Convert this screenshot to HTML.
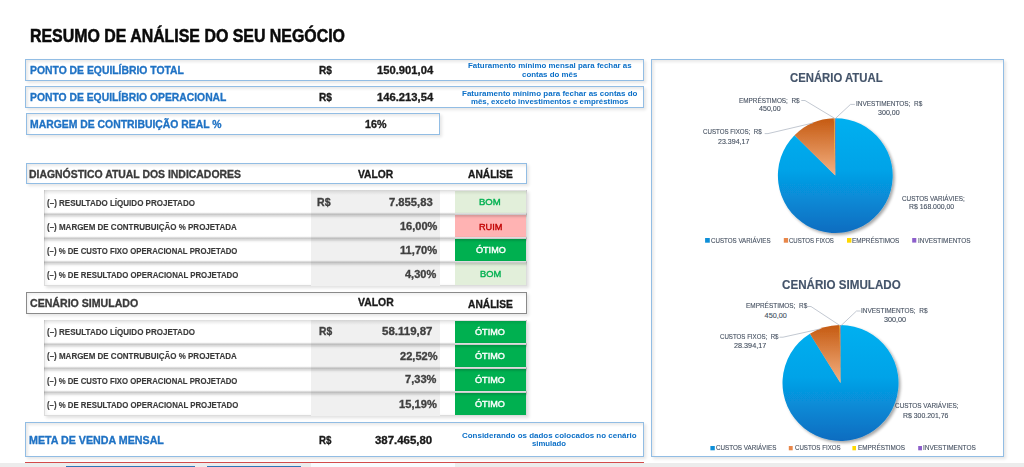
<!DOCTYPE html>
<html><head><meta charset="utf-8"><style>
html,body{margin:0;padding:0;background:#fff;width:1024px;height:467px;overflow:hidden;position:relative}
.abs{position:absolute;box-sizing:border-box}
.t{position:absolute;white-space:pre;font-family:"Liberation Sans",sans-serif;line-height:1;transform-origin:0 0}
.bx{border:1px solid #92BDE4;background:#fff;box-shadow:2px 2px 3px rgba(0,0,0,0.10), inset 2px 2px 3px rgba(0,0,0,0.09)}
.gbx{border:1px solid #8a8a8a;background:#fff;box-shadow:2px 2px 3px rgba(0,0,0,0.10), inset 2px 2px 3px rgba(0,0,0,0.06)}
.rowsbg{background:#fff;border:1px solid #dcdcdc;border-top:0;box-shadow:2px 2px 3px rgba(0,0,0,0.12), inset 2px 0 3px rgba(0,0,0,0.05)}
.sep{background:linear-gradient(to bottom, rgba(0,0,0,0) 0px, rgba(0,0,0,0.05) 1px, rgba(0,0,0,0.22) 2px, rgba(0,0,0,0.2) 2.8px, rgba(0,0,0,0.14) 3.5px, rgba(0,0,0,0.10) 4.5px, rgba(0,0,0,0.04) 5.5px, rgba(0,0,0,0) 7px)}
.sep0{background:linear-gradient(to bottom, rgba(0,0,0,0) 0px, rgba(0,0,0,0) 2px, rgba(0,0,0,0.12) 2px, rgba(0,0,0,0.08) 3.5px, rgba(0,0,0,0.03) 5.5px, rgba(0,0,0,0) 7px)}
.badge.bom{background:#E2EFDA}
.badge.ruim{background:#FFB3B3}
.badge.otimo{background:#00B050}
</style></head><body>
<div class="abs bx" style="left:25px;top:59px;width:619px;height:22px"></div>
<div class="abs bx" style="left:25px;top:86px;width:619px;height:22px"></div>
<div class="abs bx" style="left:26px;top:113px;width:414px;height:22px"></div>
<div class="abs bx" style="left:26px;top:163px;width:501px;height:21px"></div>
<div class="abs rowsbg" style="left:44px;top:190px;width:483px;height:96px"></div>
<div class="abs" style="left:311px;top:190px;width:129px;height:96px;background:#F0F0F0"></div>
<div class="abs badge bom" style="left:455px;top:191px;width:71px;height:22px"></div>
<div class="abs badge ruim" style="left:455px;top:215px;width:71px;height:22px"></div>
<div class="abs badge otimo" style="left:455px;top:239px;width:71px;height:22px"></div>
<div class="abs badge bom" style="left:455px;top:263px;width:71px;height:22px"></div>
<div class="abs sep0" style="left:44px;top:188px;width:483px;height:7px"></div>
<div class="abs sep" style="left:44px;top:212px;width:483px;height:7px"></div>
<div class="abs sep" style="left:44px;top:236px;width:483px;height:7px"></div>
<div class="abs sep" style="left:44px;top:260px;width:483px;height:7px"></div>
<div class="abs gbx" style="left:26px;top:292px;width:501px;height:22px"></div>
<div class="abs rowsbg" style="left:44px;top:320px;width:483px;height:96px"></div>
<div class="abs" style="left:311px;top:320px;width:129px;height:96px;background:#F0F0F0"></div>
<div class="abs badge otimo" style="left:455px;top:321px;width:71px;height:22px"></div>
<div class="abs badge otimo" style="left:455px;top:345px;width:71px;height:22px"></div>
<div class="abs badge otimo" style="left:455px;top:369px;width:71px;height:22px"></div>
<div class="abs badge otimo" style="left:455px;top:393px;width:71px;height:22px"></div>
<div class="abs sep0" style="left:44px;top:318px;width:483px;height:7px"></div>
<div class="abs sep" style="left:44px;top:342px;width:483px;height:7px"></div>
<div class="abs sep" style="left:44px;top:366px;width:483px;height:7px"></div>
<div class="abs sep" style="left:44px;top:390px;width:483px;height:7px"></div>
<div class="abs bx" style="left:25px;top:422px;width:619px;height:35px"></div>
<div class="abs bx" style="left:651px;top:59px;width:353px;height:398px"></div>
<div class="abs" style="left:25px;top:462px;width:619px;height:1px;background:#D24B4B"></div>
<div class="abs" style="left:0;top:463px;width:1024px;height:4px;background:#ECECEC"></div>
<div class="abs" style="left:311px;top:463px;width:144px;height:4px;background:#F9FBFE"></div>
<div class="abs" style="left:66px;top:466px;width:129px;height:1px;background:#2E75B6"></div>
<div class="abs" style="left:207px;top:466px;width:94px;height:1px;background:#2E75B6"></div>
<svg class="abs" style="left:0;top:0" width="1024" height="467" viewBox="0 0 1024 467">
<defs>
<linearGradient id="p1b" x1="0" y1="0" x2="0" y2="1"><stop offset="0" stop-color="#00B0F0"/><stop offset="0.45" stop-color="#05A3E8"/><stop offset="1" stop-color="#0A6CC0"/></linearGradient>
<linearGradient id="p1o" x1="0" y1="0" x2="0" y2="1"><stop offset="0" stop-color="#C55A11"/><stop offset="1" stop-color="#F4B183"/></linearGradient>
<linearGradient id="p2b" x1="0" y1="0" x2="0" y2="1"><stop offset="0" stop-color="#00B0F0"/><stop offset="0.45" stop-color="#05A3E8"/><stop offset="1" stop-color="#0A6CC0"/></linearGradient>
<linearGradient id="p2o" x1="0" y1="0" x2="0" y2="1"><stop offset="0" stop-color="#C55A11"/><stop offset="1" stop-color="#F4B183"/></linearGradient>
<filter id="sh" x="-20%" y="-20%" width="140%" height="140%"><feGaussianBlur in="SourceAlpha" stdDeviation="1.5"/><feOffset dx="1.5" dy="1.5"/><feComponentTransfer><feFuncA type="linear" slope="0.35"/></feComponentTransfer><feMerge><feMergeNode/><feMergeNode in="SourceGraphic"/></feMerge></filter>
</defs>
<g filter="url(#sh)">
<path d="M835.30,175.60 L835.30,118.20 A57.4,57.4 0 1 1 794.54,135.18 Z" fill="url(#p1b)"/>
<path d="M835.30,175.60 L794.54,135.18 A57.4,57.4 0 0 1 833.89,118.22 Z" fill="url(#p1o)"/>
<path d="M835.30,175.60 L833.89,118.22 A57.4,57.4 0 0 1 834.74,118.20 Z" fill="#FFC000"/>
<path d="M835.30,175.60 L834.74,118.20 A57.4,57.4 0 0 1 835.30,118.20 Z" fill="#7030A0"/>
</g>
<g filter="url(#sh)">
<path d="M840.50,383.00 L840.50,325.00 A58.0,58.0 0 1 1 809.89,333.74 Z" fill="url(#p2b)"/>
<path d="M840.50,383.00 L809.89,333.74 A58.0,58.0 0 0 1 839.67,325.01 Z" fill="url(#p2o)"/>
<path d="M840.50,383.00 L839.67,325.01 A58.0,58.0 0 0 1 840.17,325.00 Z" fill="#FFC000"/>
<path d="M840.50,383.00 L840.17,325.00 A58.0,58.0 0 0 1 840.50,325.00 Z" fill="#7030A0"/>
</g>
<g stroke="#ADB6C2" stroke-width="0.75" fill="none">
<polyline points="801.3,100.5 805,100.5 834.6,118.3"/>
<polyline points="854.9,104.4 850.5,104.4 835.6,118.3"/>
<polyline points="764.7,133.6 768,133.6 813,123"/>
<polyline points="807.5,306.5 811,306.5 840,325.6"/>
<polyline points="860.5,311 856.5,311 841,325.6"/>
<polyline points="779.5,337.2 783,337.2 820,329"/>
</g>
<rect x="705.1" y="238" width="4.7" height="4.7" fill="#0E8FD8"/>
<rect x="783.8" y="238" width="4.3" height="4.7" fill="#E8874A"/>
<rect x="847" y="238" width="4.4" height="4.7" fill="#FFD800"/>
<rect x="912.2" y="238" width="4.1" height="4.6" fill="#8D5FCB"/>
<rect x="710.4" y="446" width="4.4" height="4.3" fill="#0E8FD8"/>
<rect x="788.8" y="446" width="3.9" height="4.3" fill="#E8874A"/>
<rect x="852.4" y="446" width="3.6" height="4.3" fill="#FFD800"/>
<rect x="918.2" y="446" width="3.8" height="4.3" fill="#8D5FCB"/>
</svg>
<div class="t" style="left:29.54px;top:28.17px;font-size:17.44px;color:#0a0a0a;font-weight:bold;-webkit-text-stroke:0.52px #0a0a0a;transform:scaleX(0.9122)">RESUMO DE ANÁLISE DO SEU NEGÓCIO</div><div class="t" style="left:29.63px;top:66.4px;font-size:10.47px;color:#1F72C4;font-weight:bold;-webkit-text-stroke:0.31px #1F72C4;transform:scaleX(0.9914)">PONTO DE EQUILÍBRIO TOTAL</div><div class="t" style="left:29.63px;top:92.8px;font-size:10.47px;color:#1F72C4;font-weight:bold;-webkit-text-stroke:0.31px #1F72C4;transform:scaleX(0.9883)">PONTO DE EQUILÍBRIO OPERACIONAL</div><div class="t" style="left:29.82px;top:119.93px;font-size:10.32px;color:#1F72C4;font-weight:bold;-webkit-text-stroke:0.31px #1F72C4;transform:scaleX(1.0077)">MARGEM DE CONTRIBUIÇÃO REAL %</div><div class="t" style="left:318.63px;top:65.85px;font-size:10.17px;color:#1a1a1a;font-weight:bold;-webkit-text-stroke:0.31px #1a1a1a;transform:scaleX(0.9973)">R$</div><div class="t" style="left:376.98px;top:65.85px;font-size:10.17px;color:#1a1a1a;font-weight:bold;-webkit-text-stroke:0.31px #1a1a1a;transform:scaleX(1.1065)">150.901,04</div><div class="t" style="left:318.63px;top:92.55px;font-size:10.17px;color:#1a1a1a;font-weight:bold;-webkit-text-stroke:0.31px #1a1a1a;transform:scaleX(0.9973)">R$</div><div class="t" style="left:376.98px;top:92.55px;font-size:10.17px;color:#1a1a1a;font-weight:bold;-webkit-text-stroke:0.31px #1a1a1a;transform:scaleX(1.1065)">146.213,54</div><div class="t" style="left:364.8px;top:119.75px;font-size:10.17px;color:#1a1a1a;font-weight:bold;-webkit-text-stroke:0.31px #1a1a1a;transform:scaleX(1.0521)">16%</div><div class="t" style="left:467.5px;top:62.2px;font-size:7.99px;color:#0B6FC7;font-weight:bold;-webkit-text-stroke:0.00px #0B6FC7;transform:scaleX(0.9915)">Faturamento mínimo mensal para fechar as</div><div class="t" style="left:522.05px;top:70.8px;font-size:7.99px;color:#0B6FC7;font-weight:bold;-webkit-text-stroke:0.00px #0B6FC7;transform:scaleX(0.9910)">contas do mês</div><div class="t" style="left:461.7px;top:89.8px;font-size:7.99px;color:#0B6FC7;font-weight:bold;-webkit-text-stroke:0.00px #0B6FC7;transform:scaleX(1.0014)">Faturamento mínimo para fechar as contas do</div><div class="t" style="left:470.7px;top:98px;font-size:7.99px;color:#0B6FC7;font-weight:bold;-webkit-text-stroke:0.00px #0B6FC7;transform:scaleX(0.9828)">mês, exceto investimentos e empréstimos</div><div class="t" style="left:462.1px;top:432.2px;font-size:7.99px;color:#0B6FC7;font-weight:bold;-webkit-text-stroke:0.00px #0B6FC7;transform:scaleX(0.9963)">Considerando os dados colocados no cenário</div><div class="t" style="left:532.31px;top:440.2px;font-size:7.99px;color:#0B6FC7;font-weight:bold;-webkit-text-stroke:0.00px #0B6FC7;transform:scaleX(0.9713)">simulado</div><div class="t" style="left:28.82px;top:169.53px;font-size:10.32px;color:#3a3a3a;font-weight:bold;-webkit-text-stroke:0.31px #3a3a3a;transform:scaleX(1.0118)">DIAGNÓSTICO ATUAL DOS INDICADORES</div><div class="t" style="left:358px;top:169.53px;font-size:10.32px;color:#1a1a1a;font-weight:bold;-webkit-text-stroke:0.31px #1a1a1a;transform:scaleX(0.9978)">VALOR</div><div class="t" style="left:468.12px;top:169.53px;font-size:10.32px;color:#1a1a1a;font-weight:bold;-webkit-text-stroke:0.31px #1a1a1a;transform:scaleX(0.9904)">ANÁLISE</div><div class="t" style="left:29.51px;top:298.93px;font-size:10.32px;color:#3a3a3a;font-weight:bold;-webkit-text-stroke:0.31px #3a3a3a;transform:scaleX(1.0268)">CENÁRIO SIMULADO</div><div class="t" style="left:357.8px;top:298.13px;font-size:10.32px;color:#1a1a1a;font-weight:bold;-webkit-text-stroke:0.31px #1a1a1a;transform:scaleX(1.0092)">VALOR</div><div class="t" style="left:468.12px;top:299.53px;font-size:10.32px;color:#1a1a1a;font-weight:bold;-webkit-text-stroke:0.31px #1a1a1a;transform:scaleX(0.9904)">ANÁLISE</div><div class="t" style="left:46.53px;top:199.49px;font-size:9.3px;color:#3a3a3a;font-weight:bold;-webkit-text-stroke:0.15px #3a3a3a;transform:scaleX(0.8626)">(–) RESULTADO LÍQUIDO PROJETADO</div><div class="t" style="left:46.53px;top:328.49px;font-size:9.3px;color:#3a3a3a;font-weight:bold;-webkit-text-stroke:0.15px #3a3a3a;transform:scaleX(0.8626)">(–) RESULTADO LÍQUIDO PROJETADO</div><div class="t" style="left:46.54px;top:223.29px;font-size:9.3px;color:#3a3a3a;font-weight:bold;-webkit-text-stroke:0.15px #3a3a3a;transform:scaleX(0.8587)">(–) MARGEM DE CONTRUBUIÇÃO % PROJETADA</div><div class="t" style="left:46.54px;top:352.49px;font-size:9.3px;color:#3a3a3a;font-weight:bold;-webkit-text-stroke:0.15px #3a3a3a;transform:scaleX(0.8587)">(–) MARGEM DE CONTRUBUIÇÃO % PROJETADA</div><div class="t" style="left:46.54px;top:247.49px;font-size:9.3px;color:#3a3a3a;font-weight:bold;-webkit-text-stroke:0.15px #3a3a3a;transform:scaleX(0.8359)">(–) % DE CUSTO FIXO OPERACIONAL PROJETADO</div><div class="t" style="left:46.54px;top:377.49px;font-size:9.3px;color:#3a3a3a;font-weight:bold;-webkit-text-stroke:0.15px #3a3a3a;transform:scaleX(0.8359)">(–) % DE CUSTO FIXO OPERACIONAL PROJETADO</div><div class="t" style="left:46.54px;top:271.29px;font-size:9.3px;color:#3a3a3a;font-weight:bold;-webkit-text-stroke:0.15px #3a3a3a;transform:scaleX(0.8405)">(–) % DE RESULTADO OPERACIONAL PROJETADO</div><div class="t" style="left:46.54px;top:400.89px;font-size:9.3px;color:#3a3a3a;font-weight:bold;-webkit-text-stroke:0.15px #3a3a3a;transform:scaleX(0.8405)">(–) % DE RESULTADO OPERACIONAL PROJETADO</div><div class="t" style="left:317.01px;top:198.25px;font-size:10.17px;color:#3f3f3f;font-weight:bold;-webkit-text-stroke:0.31px #3f3f3f;transform:scaleX(1.0413)">R$</div><div class="t" style="left:389.49px;top:198.25px;font-size:10.17px;color:#3f3f3f;font-weight:bold;-webkit-text-stroke:0.31px #3f3f3f;transform:scaleX(1.1058)">7.855,83</div><div class="t" style="left:399.99px;top:222.25px;font-size:10.17px;color:#3f3f3f;font-weight:bold;-webkit-text-stroke:0.31px #3f3f3f;transform:scaleX(1.0838)">16,00%</div><div class="t" style="left:399.98px;top:246.05px;font-size:10.17px;color:#3f3f3f;font-weight:bold;-webkit-text-stroke:0.31px #3f3f3f;transform:scaleX(1.0991)">11,70%</div><div class="t" style="left:405.4px;top:270.05px;font-size:10.17px;color:#3f3f3f;font-weight:bold;-webkit-text-stroke:0.31px #3f3f3f;transform:scaleX(1.0834)">4,30%</div><div class="t" style="left:318.82px;top:327.25px;font-size:10.17px;color:#3f3f3f;font-weight:bold;-webkit-text-stroke:0.31px #3f3f3f;transform:scaleX(1.0093)">R$</div><div class="t" style="left:382.28px;top:327.25px;font-size:10.17px;color:#3f3f3f;font-weight:bold;-webkit-text-stroke:0.31px #3f3f3f;transform:scaleX(1.1318)">58.119,87</div><div class="t" style="left:399.69px;top:351.65px;font-size:10.17px;color:#3f3f3f;font-weight:bold;-webkit-text-stroke:0.31px #3f3f3f;transform:scaleX(1.0895)">22,52%</div><div class="t" style="left:405.09px;top:375.05px;font-size:10.17px;color:#3f3f3f;font-weight:bold;-webkit-text-stroke:0.31px #3f3f3f;transform:scaleX(1.0906)">7,33%</div><div class="t" style="left:399.18px;top:400.05px;font-size:10.17px;color:#3f3f3f;font-weight:bold;-webkit-text-stroke:0.31px #3f3f3f;transform:scaleX(1.0971)">15,19%</div><div class="t" style="left:29.22px;top:435.08px;font-size:10.61px;color:#1F72C4;font-weight:bold;-webkit-text-stroke:0.32px #1F72C4;transform:scaleX(1.0067)">META DE VENDA MENSAL</div><div class="t" style="left:318.65px;top:435.85px;font-size:10.17px;color:#1a1a1a;font-weight:bold;-webkit-text-stroke:0.31px #1a1a1a;transform:scaleX(0.9574)">R$</div><div class="t" style="left:375.28px;top:435.85px;font-size:10.17px;color:#1a1a1a;font-weight:bold;-webkit-text-stroke:0.31px #1a1a1a;transform:scaleX(1.1246)">387.465,80</div><div class="t" style="left:790.3px;top:72.57px;font-size:11.92px;color:#44546A;font-weight:bold;-webkit-text-stroke:0.15px #44546A;transform:scaleX(0.9519)">CENÁRIO ATUAL</div><div class="t" style="left:782.03px;top:279.97px;font-size:11.92px;color:#44546A;font-weight:bold;-webkit-text-stroke:0.15px #44546A;transform:scaleX(0.9760)">CENÁRIO SIMULADO</div><div class="t" style="left:739.31px;top:96.82px;font-size:7.27px;color:#465161;-webkit-text-stroke:0.12px #465161;transform:scaleX(0.8774)">EMPRÉSTIMOS;  R$</div><div class="t" style="left:758.6px;top:105.42px;font-size:7.27px;color:#465161;-webkit-text-stroke:0.12px #465161;transform:scaleX(0.9773)">450,00</div><div class="t" style="left:856.26px;top:99.62px;font-size:7.27px;color:#465161;-webkit-text-stroke:0.12px #465161;transform:scaleX(0.8892)">INVESTIMENTOS;  R$</div><div class="t" style="left:878.11px;top:109.22px;font-size:7.27px;color:#465161;-webkit-text-stroke:0.12px #465161;transform:scaleX(0.9771)">300,00</div><div class="t" style="left:703.34px;top:128.42px;font-size:7.27px;color:#465161;-webkit-text-stroke:0.12px #465161;transform:scaleX(0.8471)">CUSTOS FIXOS;  R$</div><div class="t" style="left:717.56px;top:137.82px;font-size:7.27px;color:#465161;-webkit-text-stroke:0.12px #465161;transform:scaleX(0.9701)">23.394,17</div><div class="t" style="left:901.93px;top:195.02px;font-size:7.27px;color:#465161;-webkit-text-stroke:0.12px #465161;transform:scaleX(0.8719)">CUSTOS VARIÁVIES;</div><div class="t" style="left:909.28px;top:203.42px;font-size:7.27px;color:#465161;-webkit-text-stroke:0.12px #465161;transform:scaleX(0.9479)">R$ 168.000,00</div><div class="t" style="left:711.14px;top:237.22px;font-size:7.27px;color:#465161;-webkit-text-stroke:0.12px #465161;transform:scaleX(0.8518)">CUSTOS VARIÁVIES</div><div class="t" style="left:789.14px;top:237.22px;font-size:7.27px;color:#465161;-webkit-text-stroke:0.12px #465161;transform:scaleX(0.8318)">CUSTOS FIXOS</div><div class="t" style="left:852.31px;top:237.22px;font-size:7.27px;color:#465161;-webkit-text-stroke:0.12px #465161;transform:scaleX(0.8793)">EMPRÉSTIMOS</div><div class="t" style="left:918.46px;top:237.22px;font-size:7.27px;color:#465161;-webkit-text-stroke:0.12px #465161;transform:scaleX(0.8855)">INVESTIMENTOS</div><div class="t" style="left:745.71px;top:302.42px;font-size:7.27px;color:#465161;-webkit-text-stroke:0.12px #465161;transform:scaleX(0.8869)">EMPRÉSTIMOS;  R$</div><div class="t" style="left:764.6px;top:311.62px;font-size:7.27px;color:#465161;-webkit-text-stroke:0.12px #465161;transform:scaleX(1.0000)">450,00</div><div class="t" style="left:861.05px;top:307.42px;font-size:7.27px;color:#465161;-webkit-text-stroke:0.12px #465161;transform:scaleX(0.8919)">INVESTIMENTOS;  R$</div><div class="t" style="left:883.5px;top:316.22px;font-size:7.27px;color:#465161;-webkit-text-stroke:0.12px #465161;transform:scaleX(0.9954)">300,00</div><div class="t" style="left:719.94px;top:333.42px;font-size:7.27px;color:#465161;-webkit-text-stroke:0.12px #465161;transform:scaleX(0.8435)">CUSTOS FIXOS;  R$</div><div class="t" style="left:733.5px;top:342.42px;font-size:7.27px;color:#465161;-webkit-text-stroke:0.12px #465161;transform:scaleX(0.9969)">28.394,17</div><div class="t" style="left:894.53px;top:402.42px;font-size:7.27px;color:#465161;-webkit-text-stroke:0.12px #465161;transform:scaleX(0.8817)">CUSTOS VARIÁVIES;</div><div class="t" style="left:903.07px;top:412.02px;font-size:7.27px;color:#465161;-webkit-text-stroke:0.12px #465161;transform:scaleX(0.9522)">R$ 300.201,76</div><div class="t" style="left:715.53px;top:444.42px;font-size:7.27px;color:#465161;-webkit-text-stroke:0.12px #465161;transform:scaleX(0.8633)">CUSTOS VARIÁVIES</div><div class="t" style="left:794.94px;top:444.42px;font-size:7.27px;color:#465161;-webkit-text-stroke:0.12px #465161;transform:scaleX(0.8449)">CUSTOS FIXOS</div><div class="t" style="left:858.11px;top:444.42px;font-size:7.27px;color:#465161;-webkit-text-stroke:0.12px #465161;transform:scaleX(0.8764)">EMPRÉSTIMOS</div><div class="t" style="left:923.25px;top:444.42px;font-size:7.27px;color:#465161;-webkit-text-stroke:0.12px #465161;transform:scaleX(0.8915)">INVESTIMENTOS</div><div class="t" style="left:479.15px;top:198.39px;font-size:8.72px;color:#00B050;-webkit-text-stroke:0.35px #00B050;transform:scaleX(1.0948)">BOM</div><div class="t" style="left:478.97px;top:222.79px;font-size:8.72px;color:#C00000;-webkit-text-stroke:0.35px #C00000;transform:scaleX(1.0518)">RUIM</div><div class="t" style="left:475.68px;top:246.96px;font-size:8.28px;color:#ffffff;-webkit-text-stroke:0.35px #ffffff;transform:scaleX(1.0991)">ÓTIMO</div><div class="t" style="left:479.77px;top:270.39px;font-size:8.72px;color:#00B050;-webkit-text-stroke:0.35px #00B050;transform:scaleX(1.0684)">BOM</div><div class="t" style="left:474.87px;top:328.96px;font-size:8.28px;color:#ffffff;-webkit-text-stroke:0.35px #ffffff;transform:scaleX(1.1047)">ÓTIMO</div><div class="t" style="left:474.87px;top:353.16px;font-size:8.28px;color:#ffffff;-webkit-text-stroke:0.35px #ffffff;transform:scaleX(1.1047)">ÓTIMO</div><div class="t" style="left:474.87px;top:377.16px;font-size:8.28px;color:#ffffff;-webkit-text-stroke:0.35px #ffffff;transform:scaleX(1.1047)">ÓTIMO</div><div class="t" style="left:474.87px;top:400.76px;font-size:8.28px;color:#ffffff;-webkit-text-stroke:0.35px #ffffff;transform:scaleX(1.1047)">ÓTIMO</div>
</body></html>
